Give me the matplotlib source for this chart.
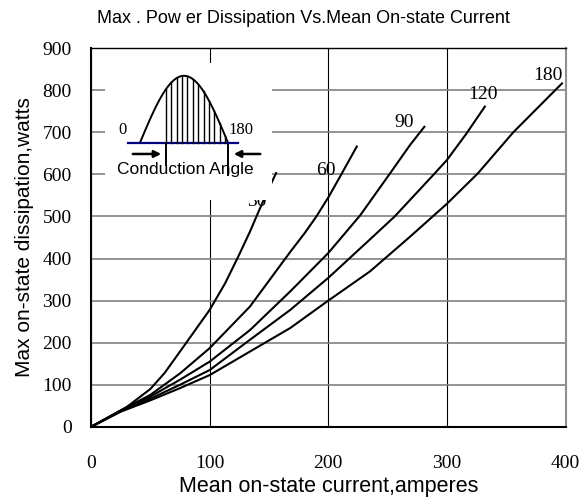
import matplotlib
matplotlib.use('Agg')
import matplotlib.pyplot as plt
import numpy as np

### Data ###
angles = [30, 60, 90, 120, 180]

x_30 = [0, 30, 50, 62, 75, 100, 113, 124, 134, 141, 148, 156]
y_30 = [0, 47, 90, 128, 179, 278, 341, 404, 464, 510, 555, 603]

x_60 = [0, 25, 50, 75, 100, 134, 168, 180, 190, 200, 210, 224]
y_60 = [0, 39, 76, 127, 187, 286, 416, 460, 500, 545, 595, 666]

x_90 = [0, 25, 50, 75, 100, 134, 168, 200, 227, 252, 269, 281]
y_90 = [0, 38, 72, 112, 155, 230, 322, 413, 503, 602, 670, 713]

x_120 = [0, 25, 50, 75, 100, 134, 168, 200, 235, 256, 289, 300, 316, 332]
y_120 = [0, 37, 67, 100, 135, 207, 278, 354, 445, 500, 600, 634, 695, 761]

x_180 = [0, 25, 50, 75, 100, 134, 168, 200, 235, 269, 300, 326, 356, 397]
y_180 = [0, 36, 63, 92, 123, 179, 235, 300, 369, 452, 530, 602, 700, 816]

curves_x = [x_30, x_60, x_90, x_120, x_180]
curves_y = [y_30, y_60, y_90, y_120, y_180]

# where the angle labels sit (data coords)
label_x = [140, 198, 264, 330, 385]
label_y = [536, 608, 724, 789, 836]

x_ticks = [0, 100, 200, 300, 400]
y_ticks = [0, 100, 200, 300, 400, 500, 600, 700, 800, 900]

serif = 'Liberation Serif'
sans = 'Liberation Sans'

fig = plt.figure(figsize=(5.8, 5.01), dpi=100)
ax = fig.add_axes([0.157, 0.148, 0.818, 0.756])

for xs, ys in zip(curves_x, curves_y):
    ax.plot(xs, ys, color='black', linewidth=1.5, zorder=3)

for a, lx, ly in zip(angles, label_x, label_y):
    ax.text(lx, ly, str(a), fontsize=14, family=serif, ha='center', va='center', zorder=4)

ax.set_xlim(0, 400)
ax.set_ylim(0, 900)
ax.set_xticks(x_ticks)
ax.set_yticks(y_ticks)
ax.tick_params(length=0, labelsize=14)
ax.tick_params(axis='x', pad=20)
ax.tick_params(axis='y', pad=14)
for lab in ax.get_xticklabels() + ax.get_yticklabels():
    lab.set_family(serif)
ax.yaxis.grid(True, color='#808080', linewidth=1.2)
ax.xaxis.grid(True, color='black', linewidth=0.8)
ax.set_axisbelow(True)
ax.spines['left'].set_linewidth(1.5)
ax.spines['bottom'].set_linewidth(1.5)
ax.spines['top'].set_linewidth(1.0)
ax.spines['right'].set_color('#909090')
ax.spines['right'].set_linewidth(1.5)

ax.set_xlabel('Mean on-state current,amperes', fontsize=15.5, family=sans, labelpad=3)
ax.set_ylabel('Max on-state dissipation,watts', fontsize=15, family=sans, labelpad=6)
fig.text(0.524, 0.963, 'Max . Pow er Dissipation Vs.Mean On-state Current',
         fontsize=13, family=sans, ha='center', va='center')

### Inset: conduction angle sketch (pixel-like coords) ###
ins = fig.add_axes([0.181, 0.601, 0.288, 0.273], zorder=5)
ins.set_xlim(105, 272)
ins.set_ylim(200, 63)
ins.axis('off')
ins.add_patch(plt.Rectangle((105, 63), 167, 137, color='white', zorder=0))

base = 142.7
hx = np.linspace(140, 228, 60)
hy = base - 67 * np.sin(np.pi * (hx - 140) / 88)
ins.plot(hx, hy, color='black', linewidth=1.4)
ins.plot([128, 238], [base, base], color='#000080', linewidth=1.6)
for xv in np.linspace(166, 225, 12):
    top = base - 67 * np.sin(np.pi * (xv - 140) / 88)
    ins.plot([xv, xv], [base, top], color='black', linewidth=1.0)
ins.plot([166, 166], [base, 165], color='black', linewidth=1.4)
ins.plot([228, 228], [145, 175], color='black', linewidth=1.4)
ins.annotate('', xy=(164, 154), xytext=(130, 154),
             arrowprops=dict(arrowstyle='-|>', color='black', lw=1.8, mutation_scale=10))
ins.annotate('', xy=(231, 154), xytext=(263, 154),
             arrowprops=dict(arrowstyle='-|>', color='black', lw=1.8, mutation_scale=10))
ins.text(123, 130, '0', fontsize=12, family=serif, ha='center', va='center')
ins.text(241, 130, '180', fontsize=12, family=serif, ha='center', va='center')
ins.text(185, 170, 'Conduction Angle', fontsize=12.5, family=sans, ha='center', va='center')

fig.savefig('out.png', dpi=100)
